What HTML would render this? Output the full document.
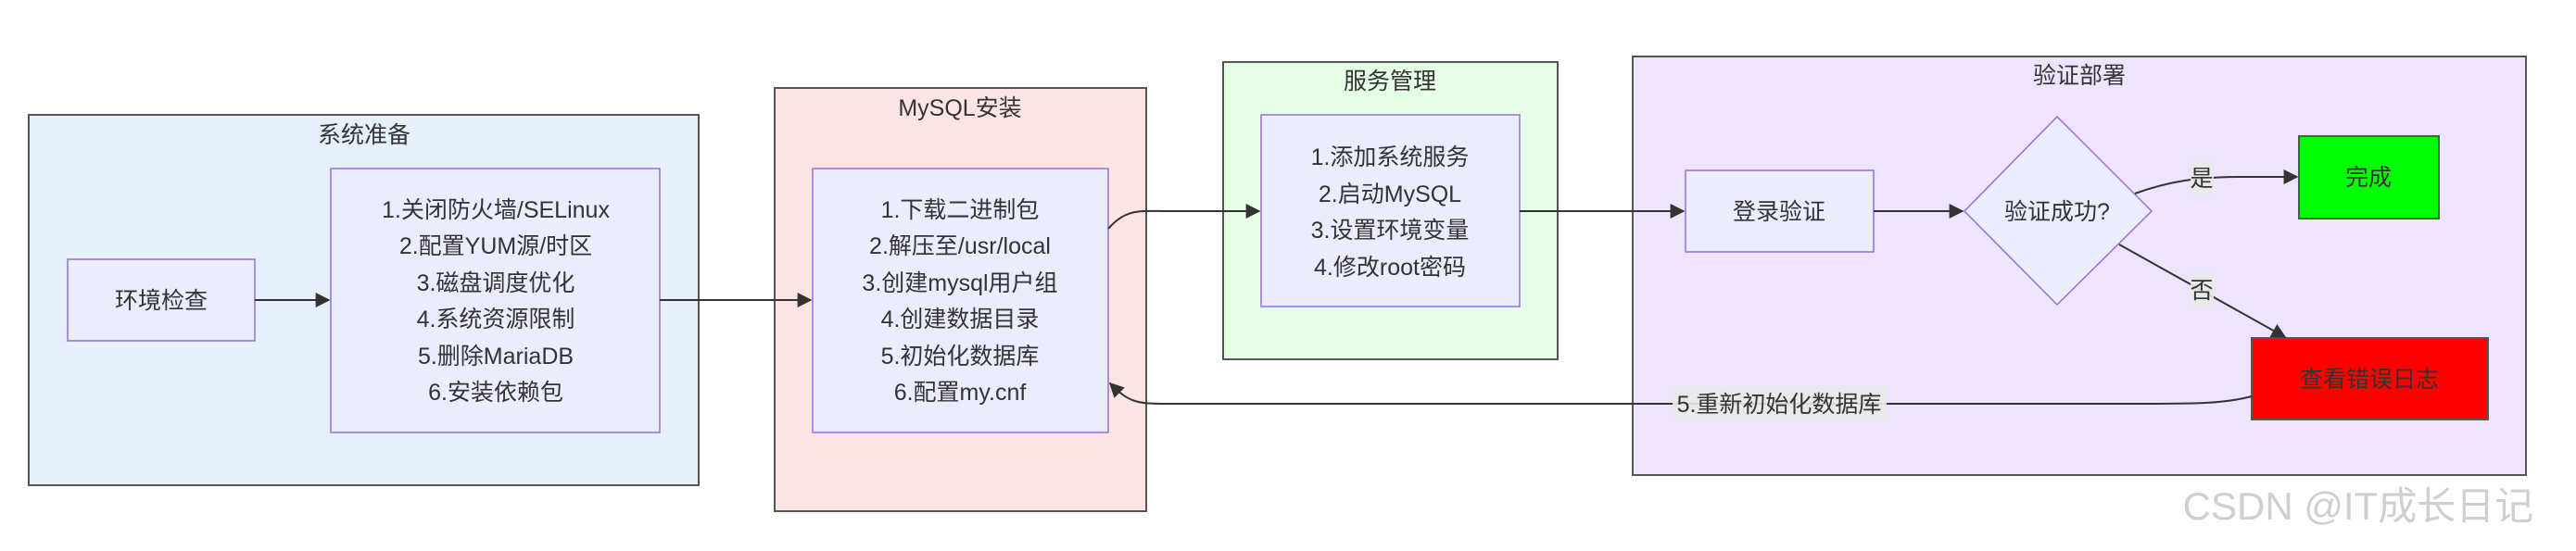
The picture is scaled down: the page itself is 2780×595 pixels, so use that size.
<!DOCTYPE html>
<html><head><meta charset="utf-8"><style>
html,body{margin:0;padding:0;background:#fff;}
svg text{font-family:"Liberation Sans","Noto Sans CJK SC",sans-serif;font-size:25px;fill:#333;}
</style></head><body>
<svg width="2780" height="590" viewBox="0 0 2780 590" xmlns="http://www.w3.org/2000/svg">
<defs><marker id="a" viewBox="0 0 10 10" refX="9" refY="5" markerWidth="8" markerHeight="8" orient="auto-start-reverse" markerUnits="userSpaceOnUse"><path d="M0,0L10,5L0,10z" fill="#333"/></marker>
<marker id="b" viewBox="0 0 10 10" refX="9" refY="5" markerWidth="16" markerHeight="16" orient="auto" markerUnits="userSpaceOnUse"><path d="M0,0L10,5L0,10z" fill="#333"/></marker></defs>
<!-- clusters -->
<rect x="31" y="124" width="723" height="400" fill="#e6f0fb" stroke="#555" stroke-width="2"/>
<text x="393" y="154" text-anchor="middle">系统准备</text>
<rect x="836" y="95" width="401" height="457" fill="#fde4e4" stroke="#555" stroke-width="2"/>
<text x="1036" y="125" text-anchor="middle">MySQL安装</text>
<rect x="1320" y="67" width="361" height="321" fill="#e6fde6" stroke="#555" stroke-width="2"/>
<text x="1500" y="96" text-anchor="middle">服务管理</text>
<rect x="1762" y="61" width="964" height="452" fill="#efe4fd" stroke="#555" stroke-width="2"/>
<text x="2244" y="90" text-anchor="middle">验证部署</text>
<!-- nodes -->
<g fill="#ececff" stroke="#9370db" stroke-width="1.5">
<rect x="73" y="280" width="202" height="88"/>
<rect x="357" y="182" width="355" height="285"/>
<rect x="877" y="182" width="319" height="285"/>
<rect x="1361" y="124" width="279" height="207"/>
<rect x="1819" y="184" width="203" height="88"/>
<polygon points="2220,126 2322,228 2220,329 2120,228"/>
</g>
<rect x="2481" y="147" width="151" height="89" fill="#00ff00" stroke="#555" stroke-width="2"/>
<rect x="2430" y="365" width="255" height="88" fill="#ff0000" stroke="#555" stroke-width="2"/>
<g text-anchor="middle">
<text x="174" y="333">环境检查</text>
<text x="535" y="235">1.关闭防火墙/SELinux</text>
<text x="535" y="274">2.配置YUM源/时区</text>
<text x="535" y="314">3.磁盘调度优化</text>
<text x="535" y="353">4.系统资源限制</text>
<text x="535" y="393">5.删除MariaDB</text>
<text x="535" y="432">6.安装依赖包</text>
<text x="1036" y="235">1.下载二进制包</text>
<text x="1036" y="274">2.解压至/usr/local</text>
<text x="1036" y="314">3.创建mysql用户组</text>
<text x="1036" y="353">4.创建数据目录</text>
<text x="1036" y="393">5.初始化数据库</text>
<text x="1036" y="432">6.配置my.cnf</text>
<text x="1500" y="178">1.添加系统服务</text>
<text x="1500" y="218">2.启动MySQL</text>
<text x="1500" y="257">3.设置环境变量</text>
<text x="1500" y="297">4.修改root密码</text>
<text x="1920" y="237">登录验证</text>
<text x="2220" y="237">验证成功?</text>
<text x="2556" y="200">完成</text>
<text x="2557" y="418">查看错误日志</text>
</g>
<!-- edges -->
<g fill="none" stroke="#333" stroke-width="2">
<path d="M275,324H355" marker-end="url(#b)"/>
<path d="M712,324H875" marker-end="url(#b)"/>
<path d="M1196,247C1215,225 1230,228 1260,228H1359" marker-end="url(#b)"/>
<path d="M1640,228H1817" marker-end="url(#b)"/>
<path d="M2022,228H2118" marker-end="url(#b)"/>
<path d="M2304,209C2340,196 2370,191 2420,191H2479" marker-end="url(#b)"/>
<path d="M2287,264L2466,364" marker-end="url(#b)"/>
<path d="M2430,428C2400,436 2370,436 2300,436H1260C1225,436 1218,434 1198,414" marker-end="url(#b)"/>
</g>
<rect x="2364" y="173" width="25" height="38" fill="#e8e8e8" opacity="0.9"/>
<text x="2376" y="201" text-anchor="middle">是</text>
<rect x="2364" y="294" width="25" height="38" fill="#e8e8e8" opacity="0.9"/>
<text x="2376" y="322" text-anchor="middle">否</text>
<rect x="1805" y="417" width="231" height="38" fill="#e8e8e8" opacity="0.9"/>
<text x="1920" y="445" text-anchor="middle">5.重新初始化数据库</text>
<text x="2545" y="561" text-anchor="middle" style="font-size:42px;fill:#cfcfcf;">CSDN @IT成长日记</text>
</svg>
</body></html>
